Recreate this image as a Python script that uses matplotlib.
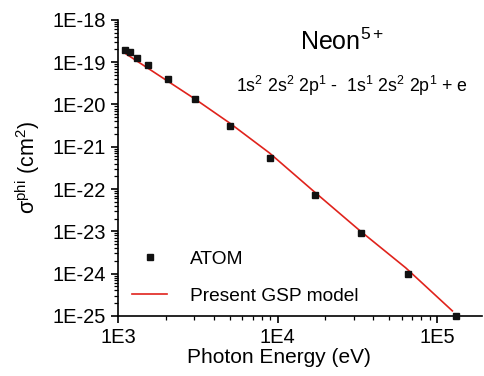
import matplotlib
matplotlib.use('Agg')
import matplotlib.pyplot as plt
import matplotlib.ticker as ticker
import numpy as np

plt.rcParams['font.family'] = ['Liberation Sans', 'DejaVu Sans']
plt.rcParams['mathtext.fontset'] = 'custom'
plt.rcParams['mathtext.rm'] = 'Liberation Sans'
plt.rcParams['mathtext.it'] = 'Liberation Sans'

# ATOM data points (photon energy in eV, cross section in cm^2)
atom_energy = [1107, 1190, 1316, 1544, 2062, 3048, 5057, 9030, 17090, 33280, 65770, 131500]
atom_sigma = [1.95e-19, 1.75e-19, 1.26e-19, 8.6e-20, 4.0e-20, 1.35e-20, 3.1e-21,
              5.5e-22, 7.3e-23, 9.2e-24, 9.9e-25, 1.0e-25]

# Present GSP model curve
gsp_energy = [1122, 3025, 5000, 8890, 16480, 32430, 63680, 125000]
gsp_sigma = [1.57e-19, 1.36e-20, 3.66e-21, 7.16e-22, 9.55e-23, 1.08e-23, 1.37e-24, 1.31e-25]

x_ticks = [1e3, 1e4, 1e5]
x_labels = ['1E3', '1E4', '1E5']
y_ticks = [1e-25, 1e-24, 1e-23, 1e-22, 1e-21, 1e-20, 1e-19, 1e-18]
y_labels = ['1E-25', '1E-24', '1E-23', '1E-22', '1E-21', '1E-20', '1E-19', '1E-18']

fig = plt.figure(figsize=(4.84, 3.76), dpi=100)
ax = fig.add_axes([0.244, 0.160, 0.752, 0.787])

ax.plot(atom_energy, atom_sigma, 's', color='#111111', ms=5, label='ATOM',
        clip_on=False, zorder=3)
ax.plot(gsp_energy, gsp_sigma, '-', color='#e0231c', lw=1.2,
        label='Present GSP model', zorder=2)

ax.set_xscale('log')
ax.set_yscale('log')
ax.set_xlim(1e3, 1.92e5)
ax.set_ylim(1e-25, 1e-18)

ax.xaxis.set_major_locator(ticker.FixedLocator(x_ticks))
ax.xaxis.set_major_formatter(ticker.FixedFormatter(x_labels))
ax.yaxis.set_major_locator(ticker.FixedLocator(y_ticks))
ax.yaxis.set_major_formatter(ticker.FixedFormatter(y_labels))
ax.xaxis.set_minor_locator(ticker.LogLocator(base=10, subs=np.arange(2, 10), numticks=20))
ax.yaxis.set_minor_locator(ticker.LogLocator(base=10, subs=np.arange(2, 10), numticks=20))
ax.xaxis.set_minor_formatter(ticker.NullFormatter())
ax.yaxis.set_minor_formatter(ticker.NullFormatter())

ax.spines['top'].set_visible(False)
ax.spines['right'].set_visible(False)
ax.spines['left'].set_linewidth(1.2)
ax.spines['bottom'].set_linewidth(1.2)
ax.tick_params(which='major', direction='out', length=5, width=1.2, labelsize=14.5)
ax.tick_params(which='minor', direction='out', length=3, width=0.9)

ax.set_xlabel('Photon Energy (eV)', fontsize=15, labelpad=6)
ax.xaxis.set_label_coords(0.442, -0.11)
ax.set_ylabel(r'σ$^{\mathrm{phi}}$ (cm$^{2}$)', fontsize=15.5, labelpad=8)

ax.text(0.616, 0.899, r'Neon$^{\mathrm{5+}}$', transform=ax.transAxes, fontsize=18,
        ha='center', va='baseline')
ax.text(0.643, 0.757,
        r'1s$^{2}$ 2s$^{2}$ 2p$^{1}$ -  1s$^{1}$ 2s$^{2}$ 2p$^{1}$ + e',
        transform=ax.transAxes, fontsize=12.8, ha='center', va='baseline')

ax.legend(loc='lower left', bbox_to_anchor=(-0.008, -0.02), frameon=False, fontsize=13.8,
          handlelength=1.8, handletextpad=1.2, labelspacing=1.0)

fig.savefig('out.png', dpi=100)
